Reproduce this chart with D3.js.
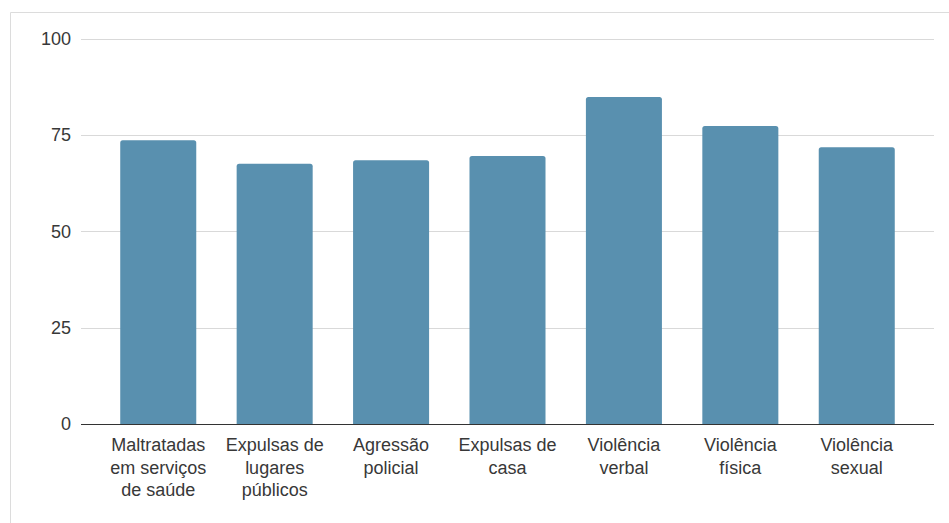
<!DOCTYPE html>
<html>
<head>
<meta charset="utf-8">
<script src="https://cdn.jsdelivr.net/npm/d3@7"></script>
<style>
  html, body { margin: 0; padding: 0; background: #fff; }
  svg { display: block; }
  text { font-family: "Liberation Sans", Arial, sans-serif; }
</style>
</head>
<body>
<script>
const categories = [
  ["Maltratadas", "em serviços", "de saúde"],
  ["Expulsas de", "lugares", "públicos"],
  ["Agressão", "policial"],
  ["Expulsas de", "casa"],
  ["Violência", "verbal"],
  ["Violência", "física"],
  ["Violência", "sexual"]
];
const values = [73.6, 67.5, 68.4, 69.5, 84.8, 77.3, 71.8];
const yTicks = [0, 25, 50, 75, 100];

const W = 949, H = 523;
const svg = d3.select("body").append("svg").attr("width", W).attr("height", H);

// frame
svg.append("path")
  .attr("d", `M10.5,${H} V12.5 H${W}`)
  .attr("fill", "none").attr("stroke", "#dcdcdc").attr("stroke-width", 1);

const x = d3.scaleBand()
  .domain(categories.map((d, i) => i))
  .range([81, 934])
  .paddingInner(0.347)
  .paddingOuter(0.337);

const y = d3.scaleLinear().domain([0, 100]).range([424, 38.5]);

// gridlines
svg.append("g").selectAll("line")
  .data(yTicks.filter(t => t !== 0))
  .join("line")
  .attr("x1", 81).attr("x2", 934)
  .attr("y1", d => Math.round(y(d)) + 0.5).attr("y2", d => Math.round(y(d)) + 0.5)
  .attr("stroke", "#d9d9d9").attr("stroke-width", 1);

// y axis labels
const yAxis = d3.axisLeft(y).tickValues(yTicks).tickSize(0).tickPadding(10);
const gy = svg.append("g").attr("transform", "translate(81,0)").call(yAxis);
gy.select(".domain").remove();
gy.selectAll("text")
  .attr("font-size", 18)
  .attr("fill", "#383838")
  .attr("font-family", "'Liberation Sans', Arial, sans-serif");

// bars with rounded top corners
const r = 2.5;
svg.append("g").selectAll("path")
  .data(values)
  .join("path")
  .attr("fill", "#5990af")
  .attr("d", (v, i) => {
    const x0 = x(i), x1 = x(i) + x.bandwidth(), y0 = y(0), y1 = y(v);
    return `M${x0},${y0} V${y1 + r} Q${x0},${y1} ${x0 + r},${y1} H${x1 - r} Q${x1},${y1} ${x1},${y1 + r} V${y0} Z`;
  });

// baseline
svg.append("line")
  .attr("x1", 81).attr("x2", 934)
  .attr("y1", y(0) + 0.5).attr("y2", y(0) + 0.5)
  .attr("stroke", "#333").attr("stroke-width", 1.2);

// x labels
const gx = svg.append("g");
categories.forEach((lines, i) => {
  const t = gx.append("text")
    .attr("x", x(i) + x.bandwidth() / 2)
    .attr("y", 451)
    .attr("text-anchor", "middle")
    .attr("font-size", 18)
    .attr("fill", "#383838");
  lines.forEach((ln, j) => {
    t.append("tspan").attr("x", x(i) + x.bandwidth() / 2).attr("dy", j === 0 ? 0 : 22.5).text(ln);
  });
});
</script>
</body>
</html>
